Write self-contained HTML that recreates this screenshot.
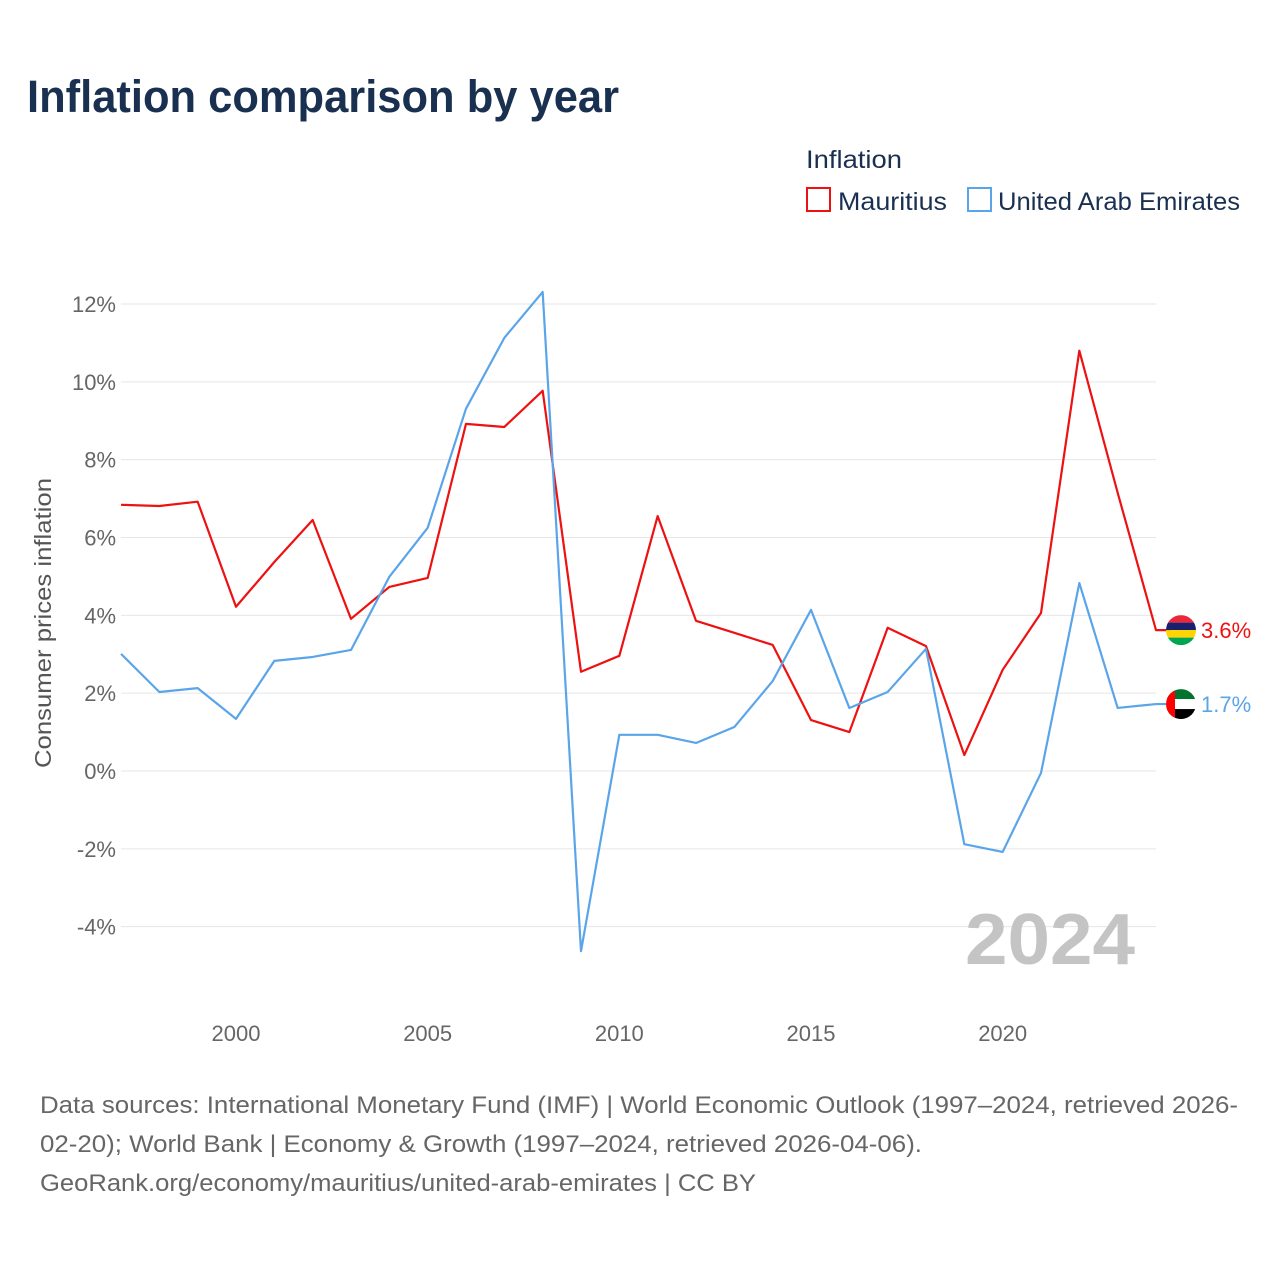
<!DOCTYPE html>
<html><head><meta charset="utf-8"><style>
body{margin:0;background:#fff;font-family:"Liberation Sans",sans-serif;}
#wrap{position:relative;width:1280px;height:1280px;overflow:hidden;}
</style></head><body>
<div id="wrap">
<svg id="chart" width="1280" height="1280" xmlns="http://www.w3.org/2000/svg">
<text x="27" y="112" font-size="45" font-weight="bold" fill="#1a3050" textLength="592" lengthAdjust="spacingAndGlyphs">Inflation comparison by year</text>
<text x="806" y="168" font-size="25" fill="#1a3050" textLength="96" lengthAdjust="spacingAndGlyphs">Inflation</text>
<g><rect x="807" y="188" width="23" height="23" fill="none" stroke="#ee1111" stroke-width="2"/><text x="838" y="210" font-size="25" fill="#1a3050" textLength="109" lengthAdjust="spacingAndGlyphs">Mauritius</text></g>
<g><rect x="968" y="188" width="23" height="23" fill="none" stroke="#5aa5ea" stroke-width="2"/><text x="998" y="210" font-size="25" fill="#1a3050" textLength="242" lengthAdjust="spacingAndGlyphs">United Arab Emirates</text></g>
<g id="grid"></g><g id="series"></g>
<text x="1135" y="964" font-size="72" font-weight="bold" fill="#c4c4c4" text-anchor="end" textLength="170" lengthAdjust="spacingAndGlyphs">2024</text>
<text transform="translate(51,623) rotate(-90)" font-size="23" fill="#555" text-anchor="middle" textLength="290" lengthAdjust="spacingAndGlyphs">Consumer prices inflation</text>
<g font-size="24" fill="#666">
<text x="40" y="1113" textLength="1198" lengthAdjust="spacingAndGlyphs">Data sources: International Monetary Fund (IMF) | World Economic Outlook (1997–2024, retrieved 2026-</text>
<text x="40" y="1152" textLength="882" lengthAdjust="spacingAndGlyphs">02-20); World Bank | Economy &amp; Growth (1997–2024, retrieved 2026-04-06).</text>
<text x="40" y="1191" textLength="716" lengthAdjust="spacingAndGlyphs">GeoRank.org/economy/mauritius/united-arab-emirates | CC BY</text>
</g>
</svg></div>
<script>
const years=[1997,1998,1999,2000,2001,2002,2003,2004,2005,2006,2007,2008,2009,2010,2011,2012,2013,2014,2015,2016,2017,2018,2019,2020,2021,2022,2023,2024];
const mauritius=[6.84,6.81,6.92,4.22,5.37,6.45,3.91,4.73,4.96,8.92,8.84,9.77,2.55,2.96,6.55,3.86,3.55,3.24,1.31,1.0,3.68,3.21,0.41,2.6,4.06,10.8,7.15,3.62];
const uae=[3.01,2.03,2.13,1.34,2.83,2.93,3.11,4.99,6.25,9.31,11.13,12.31,-4.63,0.93,0.93,0.72,1.13,2.31,4.14,1.62,2.03,3.14,-1.88,-2.08,-0.05,4.83,1.62,1.72];
const yTicks=[-4,-2,0,2,4,6,8,10,12];
const xTicks=[2000,2005,2010,2015,2020];
const NS="http://www.w3.org/2000/svg";
const x=v=>121+(v-1997)*(1156-121)/27;
const y=v=>771-v*(771-304)/12;
function mk(t,a,p){const e=document.createElementNS(NS,t);for(const k in a)e.setAttribute(k,a[k]);p.appendChild(e);return e;}
const grid=document.getElementById('grid'),ser=document.getElementById('series');
yTicks.forEach(v=>{
 const l=mk('line',{x1:121,x2:1156,y1:y(v),y2:y(v),stroke:'#e6e6e6','stroke-width':1},grid);
 
 
 const t=mk('text',{x:116,y:y(v)+8,'font-size':22,fill:'#666','text-anchor':'end'},grid);
 t.textContent=v+'%';
 
 
});
xTicks.forEach(v=>{
 const t=mk('text',{x:x(v),y:1041,'font-size':22,fill:'#666','text-anchor':'middle'},grid);
 t.textContent=v;
 
 
});
function line(vals,col,name){
 const p=mk('polyline',{points:vals.map((v,i)=>x(years[i])+','+y(v)).join(' ')+' '+(x(2024)+14)+','+y(vals[vals.length-1]),fill:'none',stroke:col,'stroke-width':2.2,'stroke-linejoin':'round'},ser);
 
 
 const last=vals[vals.length-1];
 const t=mk('text',{x:1201,y:y(last)+8,'font-size':22,fill:col},ser);
 t.textContent=last.toFixed(1)+'%';
 
 
 return y(last);
}
const ym=line(mauritius,'#ee1111','mauritius');
const yu=line(uae,'#5aa5ea','uae');
function flag(cy,stripes,name,vert){
 const g=mk('g',{},ser);
 
 
 const id='c'+name;
 const cp=mk('clipPath',{id:id},g);mk('circle',{cx:1181,cy:cy,r:15},cp);
 const gg=mk('g',{'clip-path':'url(#'+id+')'},g);
 stripes.forEach((c,i)=>mk('rect',{x:1166,y:cy-15+i*30/stripes.length,width:30,height:30/stripes.length,fill:c},gg));
 if(vert)mk('rect',{x:1166,y:cy-15,width:9,height:30,fill:vert},gg);
}
flag(ym,['#ea2839','#1a206d','#ffd500','#00a551'],'mauritius-flag');
flag(yu,['#00732f','#ffffff','#000000'],'uae-flag','#ff0000');
</script>
</body></html>
